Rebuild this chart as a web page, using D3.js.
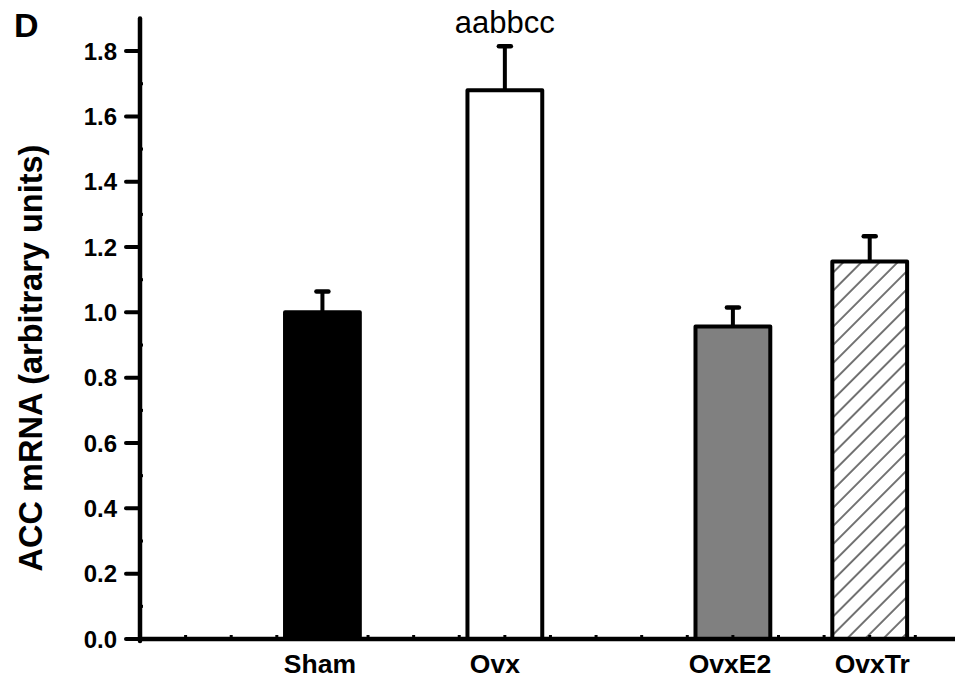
<!DOCTYPE html>
<html><head><meta charset="utf-8">
<script src="https://cdn.jsdelivr.net/npm/d3@7"></script>
<style>body{margin:0;background:#fff}svg{display:block}text{font-family:"Liberation Sans",Arial,sans-serif}</style>
</head><body><div id="c"></div>
<script>
const categories = ["Sham", "Ovx", "OvxE2", "OvxTr"];
const positions = [4, 8, 13, 16];
const values = [1.0, 1.68, 0.957, 1.156];
const errors = [0.064, 0.135, 0.058, 0.077];
const fills = ["#000000", "#ffffff", "#808080", "url(#hatch)"];
const yTicks = [0.0, 0.2, 0.4, 0.6, 0.8, 1.0, 1.2, 1.4, 1.6, 1.8];
const yMinor = [0.1, 0.3, 0.5, 0.7, 0.9, 1.1, 1.3, 1.5, 1.7];
const annotation = "aabbcc";
// label nudges in pixels (layout only)
const labelNudge = [-2.5, -10, -3, 2.5];

const W = 955, H = 684;
const svg = d3.select("#c").append("svg").attr("width", W).attr("height", H);
const defs = svg.append("defs");
const pw = 12.8;
const pat = defs.append("pattern").attr("id", "hatch").attr("patternUnits", "userSpaceOnUse")
  .attr("width", pw).attr("height", pw).attr("patternTransform", "rotate(45)");
pat.append("rect").attr("width", pw).attr("height", pw).attr("fill", "#fff");
pat.append("line").attr("x1", 1).attr("y1", 0).attr("x2", 1).attr("y2", pw)
  .attr("stroke", "#000").attr("stroke-width", 1.1);

const x = d3.scaleLinear().domain([0, 17.87]).range([140, 955]);
const y = d3.scaleLinear().domain([0, 1.9]).range([639, 18.4]);
const bw = x(1.64) - x(0);

const g = svg.append("g");
categories.forEach((c, i) => {
  const cx = x(positions[i]);
  g.append("line").attr("x1", cx).attr("x2", cx).attr("y1", y(values[i])).attr("y2", y(values[i] + errors[i]))
    .attr("stroke", "#000").attr("stroke-width", 4);
  g.append("line").attr("x1", cx - 6).attr("x2", cx + 6).attr("y1", y(values[i] + errors[i])).attr("y2", y(values[i] + errors[i]))
    .attr("stroke", "#000").attr("stroke-width", 4.5).attr("stroke-linecap", "round");
  g.append("rect").attr("x", cx - bw / 2).attr("width", bw).attr("y", y(values[i])).attr("height", y(0) - y(values[i]))
    .attr("fill", fills[i]).attr("stroke", "#000").attr("stroke-width", 4).attr("stroke-linejoin", "round");
  svg.append("text").attr("x", cx + labelNudge[i]).attr("y", 673).attr("text-anchor", "middle")
    .attr("font-weight", "bold").attr("font-size", 26.5).text(c);
});

const ax = svg.append("g");
ax.append("line").attr("x1", 140).attr("x2", 140).attr("y1", y(1.9)).attr("y2", y(0) + 2)
  .attr("stroke", "#000").attr("stroke-width", 4.5).attr("stroke-linecap", "round");
ax.append("line").attr("x1", 138).attr("x2", 955).attr("y1", y(0)).attr("y2", y(0))
  .attr("stroke", "#000").attr("stroke-width", 4.5);
yTicks.forEach(t => {
  ax.append("line").attr("x1", 126).attr("x2", 140).attr("y1", y(t)).attr("y2", y(t))
    .attr("stroke", "#000").attr("stroke-width", 4).attr("stroke-linecap", "round");
  ax.append("text").attr("x", 117).attr("y", y(t) + 8.5).attr("text-anchor", "end")
    .attr("font-weight", "bold").attr("font-size", 24).text(t.toFixed(1));
});
yMinor.forEach(t => {
  ax.append("line").attr("x1", 140).attr("x2", 143).attr("y1", y(t)).attr("y2", y(t))
    .attr("stroke", "#000").attr("stroke-width", 3);
});
d3.range(1, 18).forEach(t => {
  ax.append("line").attr("x1", x(t)).attr("x2", x(t)).attr("y1", y(0)).attr("y2", y(0) - 4)
    .attr("stroke", "#000").attr("stroke-width", 3);
});

svg.append("text").attr("transform", "translate(42,358) rotate(-90)").attr("text-anchor", "middle")
  .attr("font-weight", "bold").attr("font-size", 32.5).text("ACC mRNA (arbitrary units)");
svg.append("text").attr("x", 14).attr("y", 37).attr("font-weight", "bold").attr("font-size", 34).text("D");
svg.append("text").attr("x", x(positions[1])).attr("y", 33).attr("text-anchor", "middle")
  .attr("font-size", 31).text(annotation);
</script></body></html>
